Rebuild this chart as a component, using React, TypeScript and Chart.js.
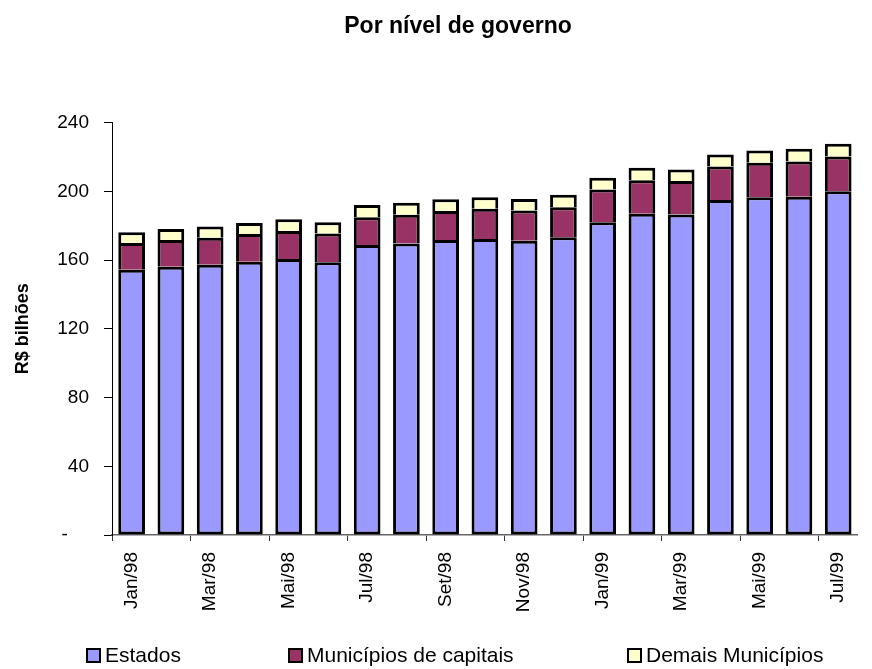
import React, { useEffect, useRef } from "react";
import { Chart, registerables } from "chart.js";

Chart.register(...registerables);

const months = [
  "Jan/98", "Fev/98", "Mar/98", "Abr/98", "Mai/98", "Jun/98", "Jul/98", "Ago/98",
  "Set/98", "Out/98", "Nov/98", "Dez/98", "Jan/99", "Fev/99", "Mar/99", "Abr/99",
  "Mai/99", "Jun/99", "Jul/99",
];
const estados = [154.3, 156.1, 157.3, 159.0, 160.6, 158.8, 168.8, 169.7, 171.7, 172.3, 171.3, 173.3, 182.0, 187.0, 186.5, 195.0, 196.6, 196.8, 200.1];
const capitais = [15.6, 15.6, 15.7, 16.2, 16.3, 16.6, 16.1, 16.6, 16.9, 17.5, 17.5, 17.5, 19.1, 19.5, 19.5, 19.5, 20.0, 20.6, 20.2];
const demais = [6.3, 6.4, 6.5, 6.4, 6.9, 6.6, 7.2, 7.0, 6.8, 6.8, 6.8, 7.2, 6.8, 7.2, 6.7, 7.0, 7.2, 7.4, 7.4];
const seriesNames = ["Estados", "Municípios de capitais", "Demais Municípios"];
const yTicks = [0, 40, 80, 120, 160, 200, 240];

const colors = ["#9999FF", "#993366", "#FFFFCC"];
const legendLeft = [86, 288, 627];
const FONT = "'Liberation Sans', Arial, sans-serif";

export default function App() {
  const ref = useRef<HTMLCanvasElement | null>(null);

  useEffect(() => {
    if (!ref.current) return;
    const series = [estados, capitais, demais];
    const chart = new Chart(ref.current, {
      type: "bar",
      data: {
        labels: months,
        datasets: series.map((d, i) => ({
          label: seriesNames[i],
          data: d,
          backgroundColor: colors[i],
          borderColor: "#000000",
          borderWidth: 3,
          borderSkipped: i === 0 ? false : "bottom",
          inflateAmount: 0,
          barPercentage: 0.68,
          categoryPercentage: 1.0,
        })),
      },
      options: {
        responsive: false,
        animation: false,
        layout: { padding: { left: 44, right: 0, top: 0, bottom: 0 } },
        plugins: {
          legend: { display: false },
          tooltip: { enabled: false },
          title: {
            display: true,
            text: "Por nível de governo",
            color: "#000",
            font: { family: FONT, size: 23, weight: "bold" },
            padding: { top: 13, bottom: 82 },
          },
        },
        scales: {
          x: {
            stacked: true,
            afterFit: (scale: any) => {
              scale.height = 134;
            },
            grid: {
              display: true,
              drawOnChartArea: false,
              drawTicks: true,
              tickLength: 6,
              offset: true,
              color: (ctx: any) => (ctx.index % 2 === 0 ? "#333333" : "rgba(0,0,0,0)"),
            },
            border: { display: true, color: "#666666", width: 1.5 },
            ticks: {
              autoSkip: false,
              maxRotation: 90,
              minRotation: 90,
              padding: 11,
              color: "#000",
              font: { family: FONT, size: 19 },
              callback: (_v: any, i: number) => (i % 2 === 0 ? months[i] : ""),
            },
          },
          y: {
            stacked: true,
            min: yTicks[0],
            max: yTicks[yTicks.length - 1],
            afterFit: (scale: any) => {
              scale.width = 68;
            },
            afterBuildTicks: (scale: any) => {
              scale.ticks = yTicks.map((v) => ({ value: v }));
            },
            grid: {
              display: true,
              drawOnChartArea: false,
              drawTicks: true,
              tickLength: 8,
              color: "#000",
            },
            border: { display: true, color: "#000", width: 1 },
            ticks: {
              padding: 15,
              color: "#000",
              font: { family: FONT, size: 19 },
              callback: (v: any) => (v === 0 ? "-    " : String(v)),
            },
            title: {
              display: true,
              text: "R$ bilhões",
              color: "#000",
              font: { family: FONT, size: 18, weight: "bold" },
              padding: { top: -32, bottom: 0 },
            },
          },
        },
      },
    });
    return () => chart.destroy();
  }, []);

  return (
    <div style={{ position: "absolute", left: 0, top: 0, width: 872, height: 669, background: "#fff" }}>
      <canvas ref={ref} width={872} height={669} style={{ display: "block" }} />
      {seriesNames.map((name, i) => (
        <div
          key={name}
          style={{
            position: "absolute",
            left: legendLeft[i],
            top: 644,
            height: 22,
            display: "flex",
            alignItems: "center",
            fontFamily: FONT,
            fontSize: 21,
            color: "#000",
            whiteSpace: "nowrap",
          }}
        >
          <span
            style={{
              display: "inline-block",
              width: 11,
              height: 11,
              background: colors[i],
              border: "2px solid #000",
              marginRight: 4,
            }}
          />
          <span>{name}</span>
        </div>
      ))}
    </div>
  );
}
